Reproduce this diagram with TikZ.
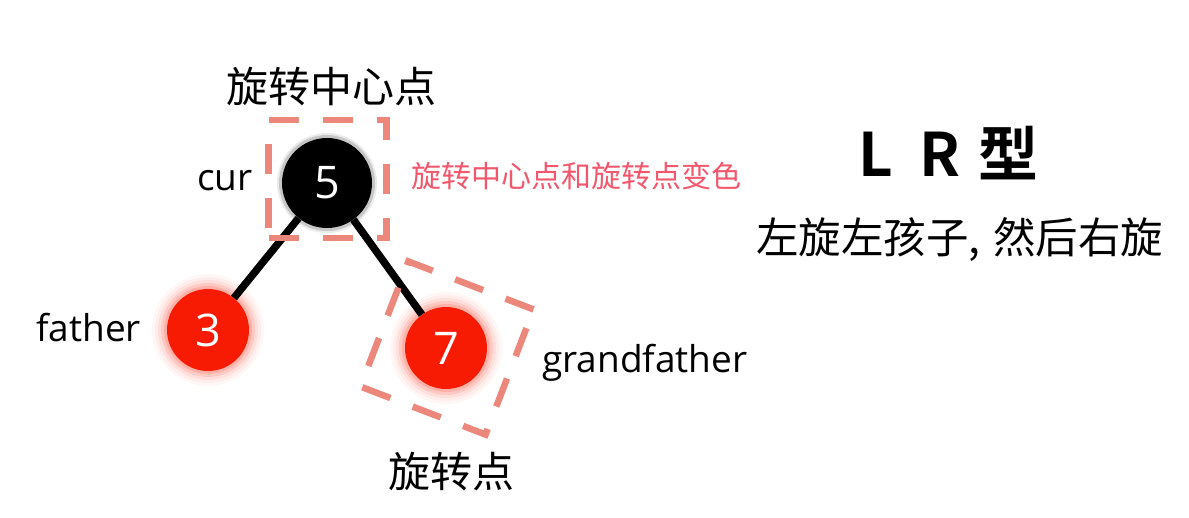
\documentclass[tikz,border=0pt]{standalone}
\usepackage{fontspec}
\setmainfont{Noto Sans CJK SC}[BoldFont={Noto Sans CJK SC Bold}]
\newfontfamily\latinfont{Open Sans}
\begin{document}
\begin{tikzpicture}[x=1pt,y=-1pt]
\definecolor{nodered}{HTML}{F61B02}
\definecolor{glowred}{HTML}{FF7A6A}
\definecolor{dashcol}{HTML}{EC877C}
\definecolor{pinktext}{HTML}{F2586D}
\tikzset{
  blacknode/.style={circle,fill=black,minimum size=90pt,inner sep=0pt,text=white,font=\latinfont\fontsize{45}{50}\selectfont},
  rednode/.style={circle,fill=nodered,minimum size=82pt,inner sep=0pt,text=white,font=\latinfont\fontsize{45}{50}\selectfont},
  edge/.style={line width=7.5pt,black},
  dashbox/.style={draw=dashcol,line width=6.5pt,dash pattern=on 30pt off 24pt},
  biglabel/.style={font=\fontsize{42}{48}\selectfont,anchor=base west,inner sep=0pt},
  latinlabel/.style={font=\latinfont\fontsize{37}{42}\selectfont,anchor=base west,inner sep=0pt},
}
\useasboundingbox[fill=white] (0,0) rectangle (1189,517);
% glows
\foreach \r/\o in {56/0.06,53/0.08,50/0.12,47/0.2,44/0.3}{
  \fill[glowred,opacity=\o] (208,330) circle (\r);
  \fill[glowred,opacity=\o] (446,348) circle (\r);
}
\foreach \r/\o in {50/0.08,48/0.15}{
  \fill[black,opacity=\o] (327,183) circle (\r);
}
\node[blacknode] (n5) at (327,183) {5};
\node[rednode] (n3) at (208,330) {3};
\node[rednode] (n7) at (446,348) {7};
\draw[edge] (n5) -- (n3);
\draw[edge] (n5) -- (n7);
% dashed boxes
\node[dashbox,minimum size=118pt,inner sep=0pt] (box5) at (327.5,179) {};
\node[dashbox,minimum size=134pt,inner sep=0pt,rotate=-21] (box7) at (447,348) {};
% labels
\node[biglabel] (ltop) at (226,102) {旋转中心点};
\node[latinlabel] (lcur) at (197,190) {cur};
\node[latinlabel] (lfather) at (36,341) {father};
\node[latinlabel] (lgf) at (542,372) {grandfather};
\node[biglabel] (lrot) at (388,487) {旋转点};
\node[font=\fontsize{30}{34}\selectfont,anchor=base west,inner sep=0pt,text=pinktext] (lpink) at (411,187) {旋转中心点和旋转点变色};
\node[font=\fontsize{60}{70}\selectfont\bfseries,anchor=base west,inner sep=0pt] (ltitle) at (858,176) {L\hspace{0.45em}R\hspace{0.3em}型};
\node[font=\fontsize{42.5}{48}\selectfont,anchor=base west,inner sep=0pt] (lsub) at (756,253) {左旋左孩子,\hspace{0.3em}然后右旋};
\end{tikzpicture}
\end{document}
